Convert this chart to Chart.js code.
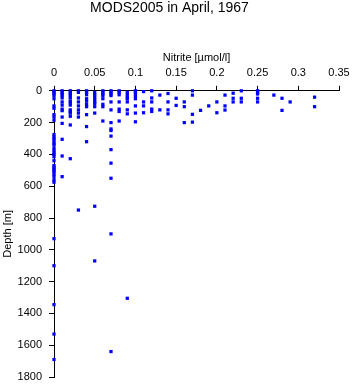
<!DOCTYPE html>
<html>
<head>
<meta charset="utf-8">
<script src="https://cdn.jsdelivr.net/npm/chart.js@4/dist/chart.umd.min.js"></script>
<style>
  html, body { margin: 0; padding: 0; background: #fff; }
  #wrap { width: 353px; height: 384px; position: relative; }
</style>
</head>
<body>
<div id="wrap"><canvas id="chart_mods2005_nitrite"></canvas></div>
<script>
// nitrite [umol/l] and depth [m], one entry per point, grouped by nitrite value
var nitrite = [
    0,0,0,0,0,0,0,0,0,0,0,0,0,0,0,0,0,0,0,0,0,0,0,0,0,0,0,0,0,0,0,0,0,0,0,0,
    0.01,0.01,0.01,0.01,0.01,0.01,0.01,0.01,0.01,0.01,0.01,0.01,0.01,0.01,
    0.02,0.02,0.02,0.02,0.02,0.02,0.02,0.02,0.02,0.02,0.02,0.02,0.02,0.02,
    0.03,0.03,0.03,0.03,0.03,0.03,0.03,0.03,0.03,
    0.04,0.04,0.04,0.04,0.04,0.04,0.04,0.04,0.04,0.04,
    0.05,0.05,0.05,0.05,0.05,0.05,0.05,0.05,0.05,0.05,
    0.06,0.06,0.06,0.06,0.06,0.06,0.06,0.06,
    0.07,0.07,0.07,0.07,0.07,0.07,0.07,0.07,0.07,0.07,0.07,0.07,0.07,0.07,0.07,
    0.08,0.08,0.08,0.08,0.08,0.08,0.08,
    0.09,0.09,0.09,0.09,0.09,0.09,0.09,0.09,
    0.10,0.10,0.10,0.10,0.10,0.10,0.10,0.10,
    0.11,0.11,0.11,0.11,
    0.12,0.12,0.12,0.12,0.12,
    0.13,0.13,
    0.14,0.14,0.14,0.14,
    0.15,0.15,
    0.16,0.16,0.16,
    0.17,0.17,0.17,0.17,
    0.18,
    0.19,
    0.20,0.20,
    0.21,0.21,0.21,
    0.22,0.22,0.22,
    0.23,0.23,0.23,
    0.25,0.25,0.25,0.25,0.25,
    0.27,
    0.28,0.28,
    0.29,
    0.32,0.32
];
var depth = [
    0,10,20,30,50,95,110,150,165,185,275,290,300,315,330,340,360,375,390,400,415,440,470,480,490,500,510,525,540,560,575,930,1100,1345,1530,1690,
    0,10,20,30,45,70,90,115,125,165,205,305,410,540,
    0,10,20,30,45,65,75,90,120,130,140,160,215,427,
    0,10,45,70,95,120,140,165,750,
    0,10,25,50,65,85,100,150,225,320,
    10,25,40,55,70,80,100,140,726,1070,
    0,10,20,30,50,85,100,190,
    0,10,20,30,70,120,200,240,250,285,370,455,550,900,1640,
    0,10,25,70,115,130,190,
    10,25,40,50,70,120,145,1305,
    0,10,20,35,50,95,140,195,
    5,70,95,138,
    0,45,70,115,130,
    27,120,
    17,70,120,145,
    47,92,
    70,100,200,
    0,27,148,197,
    123,
    95,
    70,138,
    27,95,121,
    15,47,70,
    0,47,70,
    0,10,20,47,70,
    27,
    47,123,
    70,
    40,100
];

var points = [];
for (var i = 0; i < nitrite.length; i++) {
    points.push({ x: nitrite[i], y: depth[i] });
}

var axisFont = { family: "'Liberation Sans', Arial, sans-serif", size: 11 };

var chart_mods2005_nitrite = new Chart(document.getElementById('chart_mods2005_nitrite'), {
    type: 'scatter',
    data: {
        datasets: [
            {
                label: 'Nitrite',
                data: points,
                clip: false,
                pointStyle: 'rect',
                pointRadius: 2.3,
                borderWidth: 0,
                backgroundColor: '#0000ff',
                borderColor: '#0000ff'
            }
        ]
    },
    options: {
        animation: false,
        responsive: true,
        maintainAspectRatio: false,
        events: [],
        layout: {
            padding: { left: 0, right: 14, top: 0, bottom: 7 }
        },
        plugins: {
            legend: { display: false },
            tooltip: { enabled: false },
            title: {
                display: true,
                text: 'MODS2005 in April, 1967',
                color: '#000',
                font: { family: "'Liberation Sans', Arial, sans-serif", size: 14, weight: 'normal' },
                padding: { top: 0, bottom: 4 }
            }
        },
        scales: {
            x: {
                type: 'linear',
                position: 'top',
                min: 0,
                max: 0.35,
                title: {
                    display: true,
                    text: 'Nitrite [µmol/l]',
                    color: '#000',
                    font: axisFont,
                    padding: { top: 31, bottom: 0 }
                },
                ticks: {
                    stepSize: 0.05,
                    color: '#000',
                    font: axisFont,
                    padding: 6,
                    maxRotation: 0,
                    callback: function (v) { return String(+v.toFixed(2)); }
                },
                grid: {
                    drawOnChartArea: false,
                    drawTicks: true,
                    tickLength: 5,
                    color: '#000'
                },
                border: { display: true, color: '#000', width: 1 },
                afterFit: function (scale) {
                    scale.height = 70;
                    scale.paddingLeft = 0;
                    scale.paddingRight = 0;
                }
            },
            y: {
                type: 'linear',
                reverse: true,
                min: 0,
                max: 1800,
                title: {
                    display: true,
                    text: 'Depth [m]',
                    color: '#000',
                    font: axisFont,
                    padding: { top: 1.5, bottom: 0 }
                },
                ticks: {
                    stepSize: 200,
                    color: '#000',
                    font: axisFont,
                    padding: 7,
                    callback: function (v) { return String(v); }
                },
                grid: {
                    drawOnChartArea: false,
                    drawTicks: true,
                    tickLength: 5,
                    color: '#000'
                },
                border: { display: true, color: '#000', width: 1 },
                afterFit: function (scale) {
                    scale.width = 54;
                    scale.paddingTop = 0;
                    scale.paddingBottom = 0;
                }
            }
        }
    },
    plugins: [{
        id: 'whiteBackground',
        beforeDraw: (chart, args, options) => {
            const ctx = chart.canvas.getContext('2d');
            ctx.save();
            ctx.globalCompositeOperation = 'destination-over';
            ctx.fillStyle = 'white';
            ctx.fillRect(0, 0, chart.canvas.width, chart.canvas.height);
            ctx.restore();
        }
    }]
});
</script>
</body>
</html>
